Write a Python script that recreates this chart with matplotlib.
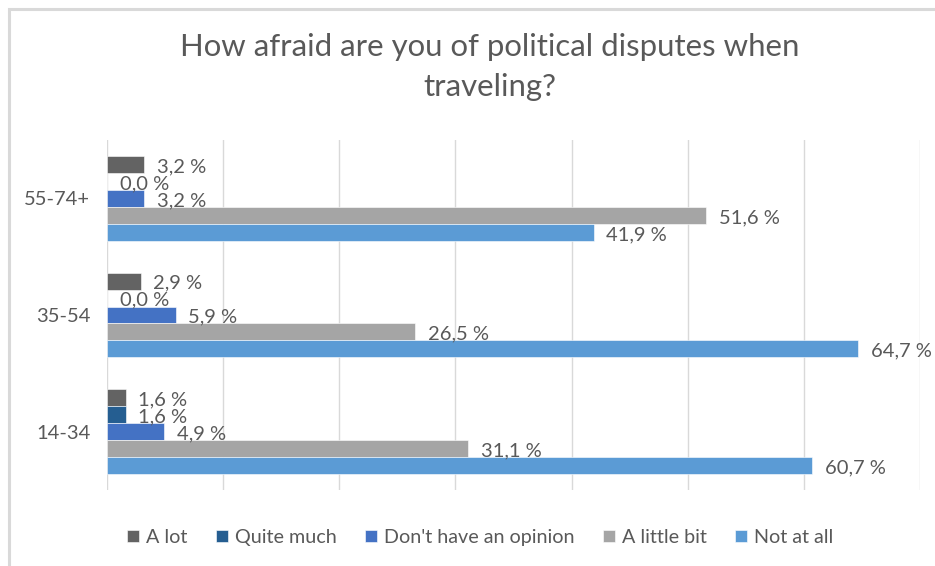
import matplotlib
matplotlib.use("Agg")
import matplotlib.pyplot as plt
from matplotlib.patches import Rectangle
import numpy as np

plt.rcParams['font.family'] = ['Lato', 'DejaVu Sans']

# age groups, bottom to top on the axis
groups = ["14-34", "35-54", "55-74+"]
series_names = ["A lot", "Quite much", "Don't have an opinion", "A little bit", "Not at all"]
a_lot = [1.6, 2.9, 3.2]
quite_much = [1.6, 0.0, 0.0]
no_opinion = [4.9, 5.9, 3.2]
little_bit = [31.1, 26.5, 51.6]
not_at_all = [60.7, 64.7, 41.9]
colors = ["#636363", "#255e91", "#4472c4", "#a5a5a5", "#5b9bd5"]

text_col = "#595959"
grid_col = "#d9d9d9"

fig = plt.figure(figsize=(9.35, 5.66), dpi=100)
ax = fig.add_axes([107 / 935, 1 - 490 / 566, (920 - 107) / 935, 350 / 566])

# light frame around the chart area
fig.patches.append(Rectangle((9 / 935, -0.1), 1.2, 1.1 - 9 / 566, transform=fig.transFigure,
                             fill=False, edgecolor="#d9d9d9", linewidth=2.2, zorder=0))

y = np.arange(len(groups))
h = 0.1457
all_series = [a_lot, quite_much, no_opinion, little_bit, not_at_all]
for i, (name, vals, c) in enumerate(zip(series_names, all_series, colors)):
    off = (2 - i) * h
    ax.barh(y + off, vals, height=h, color=c, label=name, zorder=3,
            edgecolor="white", linewidth=0.4)
    for yy, v in zip(y + off, vals):
        ax.text(v + 1.1, yy - 0.02, f"{v:.1f}".replace(".", ",") + " %",
                va="center", ha="left", fontsize=14.5, color=text_col, zorder=4)

ax.set_xlim(0, 70)
ax.set_ylim(-0.5, 2.5)
ax.set_xticks(np.arange(0, 71, 10))
ax.xaxis.grid(True, color=grid_col, linewidth=1.0, zorder=0)
ax.tick_params(axis="x", length=0, labelbottom=False)
ax.tick_params(axis="y", length=0, pad=12, labelsize=14.5, labelcolor=text_col)
ax.set_yticks(y)
ax.set_yticklabels(groups)
for s in ax.spines.values():
    s.set_visible(False)

fig.text(0.524, 1 - 67 / 566, "How afraid are you of political disputes when\ntraveling?",
         ha="center", va="center", fontsize=22.4, color=text_col, linespacing=1.5)

leg = ax.legend(loc="center", bbox_to_anchor=(0.459, -0.135), ncol=5, frameon=False,
                fontsize=14.2, handlelength=0.6, handleheight=0.6, handletextpad=0.35,
                columnspacing=1.45)
for t in leg.get_texts():
    t.set_color(text_col)

fig.savefig("out.png", dpi=100)
